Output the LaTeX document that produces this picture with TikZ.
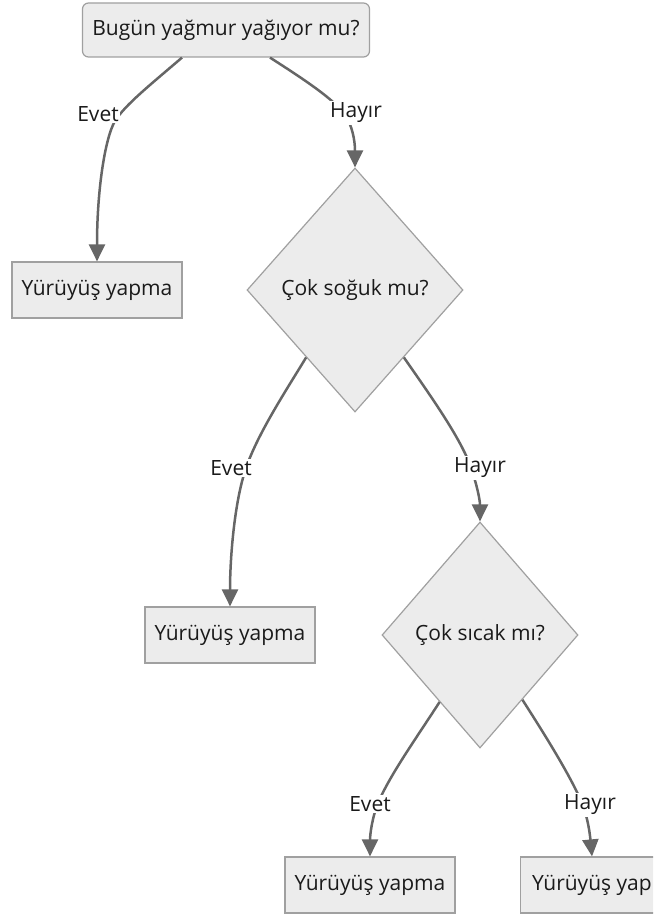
\documentclass[tikz,border=0pt]{standalone}
\usepackage{fontspec}
\setmainfont{Open Sans}
\usetikzlibrary{shapes.geometric,arrows.meta,calc}
\definecolor{boxfill}{HTML}{ECECEC}
\definecolor{boxline}{HTML}{A0A0A0}
\definecolor{edgecol}{HTML}{666666}
\definecolor{txt}{HTML}{1A1A1A}
\begin{document}
\begin{tikzpicture}[x=1pt,y=-1pt,
  font=\fontsize{21}{25}\selectfont, text=txt,
  box/.style={draw=boxline, fill=boxfill, line width=1.2pt, inner sep=0pt, minimum height=56pt},
  dec/.style={diamond, draw=boxline, fill=boxfill, line width=1.2pt, inner sep=0pt},
  lbl/.style={fill=white, inner sep=1.5pt},
  conn/.style={draw=edgecol, line width=2.5pt, -{Triangle[width=16pt,length=17pt]}}]
\useasboundingbox (0,0) rectangle (653,915);
\clip (0,0) rectangle (653,915);
% nodes
\node[box, rounded corners=6pt, minimum width=287pt, minimum height=54pt] (q1) at (226,30) {Bugün yağmur yağıyor mu?};
\node[box, minimum width=170pt] (a1) at (97,290) {Yürüyüş yapma};
\node[dec, minimum width=216pt, minimum height=244pt] (q2) at (355,290) {Çok soğuk mu?};
\node[box, minimum width=170pt] (a2) at (230,635) {Yürüyüş yapma};
\node[dec, minimum width=196pt, minimum height=226pt] (q3) at (480,635) {Çok sıcak mı?};
\node[box, minimum width=170pt] (a3) at (370,885) {Yürüyüş yapma};
\node[box, minimum width=143pt] (a4) at (592,885) {Yürüyüş yap};
% start points
\coordinate (s1) at ($(q1.south)+(-44,0)$);
\coordinate (s2) at ($(q1.south)+(44,0)$);
\coordinate (s3) at ($(q2.west)!0.55!(q2.south)$);
\coordinate (s4) at ($(q2.east)!0.55!(q2.south)$);
\coordinate (s5) at ($(q3.west)!0.59!(q3.south)$);
\coordinate (s6) at ($(q3.east)!0.57!(q3.south)$);
% connectors
\draw[conn] (s1) .. controls (150,85) and (125,105) .. (115,121)
  .. controls (105,138) and (97,190) .. (a1.north);
\draw[conn] (s2) .. controls (305,80) and (335,100) .. (345,115)
  .. controls (352,125) and (355,140) .. (q2.north);
\draw[conn] (s3) .. controls (287,389) and (258,433) .. (246,468)
  .. controls (234,503) and (230,560) .. (a2.north);
\draw[conn] (s4) .. controls (430,395) and (462,440) .. (471,468)
  .. controls (477,485) and (480,500) .. (q3.north);
\draw[conn] (s5) .. controls (415,740) and (390,775) .. (378,803)
  .. controls (372,818) and (370,835) .. (a3.north);
\draw[conn] (s6) .. controls (545,735) and (570,775) .. (582,803)
  .. controls (588,818) and (590,835) .. (a4.north);
% labels
\node[lbl] (l1) at (98,114) {Evet};
\node[lbl] (l2) at (356,113) {Hayır};
\node[lbl] (l3) at (231,468) {Evet};
\node[lbl] (l4) at (480,468) {Hayır};
\node[lbl] (l5) at (370,804) {Evet};
\node[lbl] (l6) at (590,805) {Hayır};
\end{tikzpicture}
\end{document}
